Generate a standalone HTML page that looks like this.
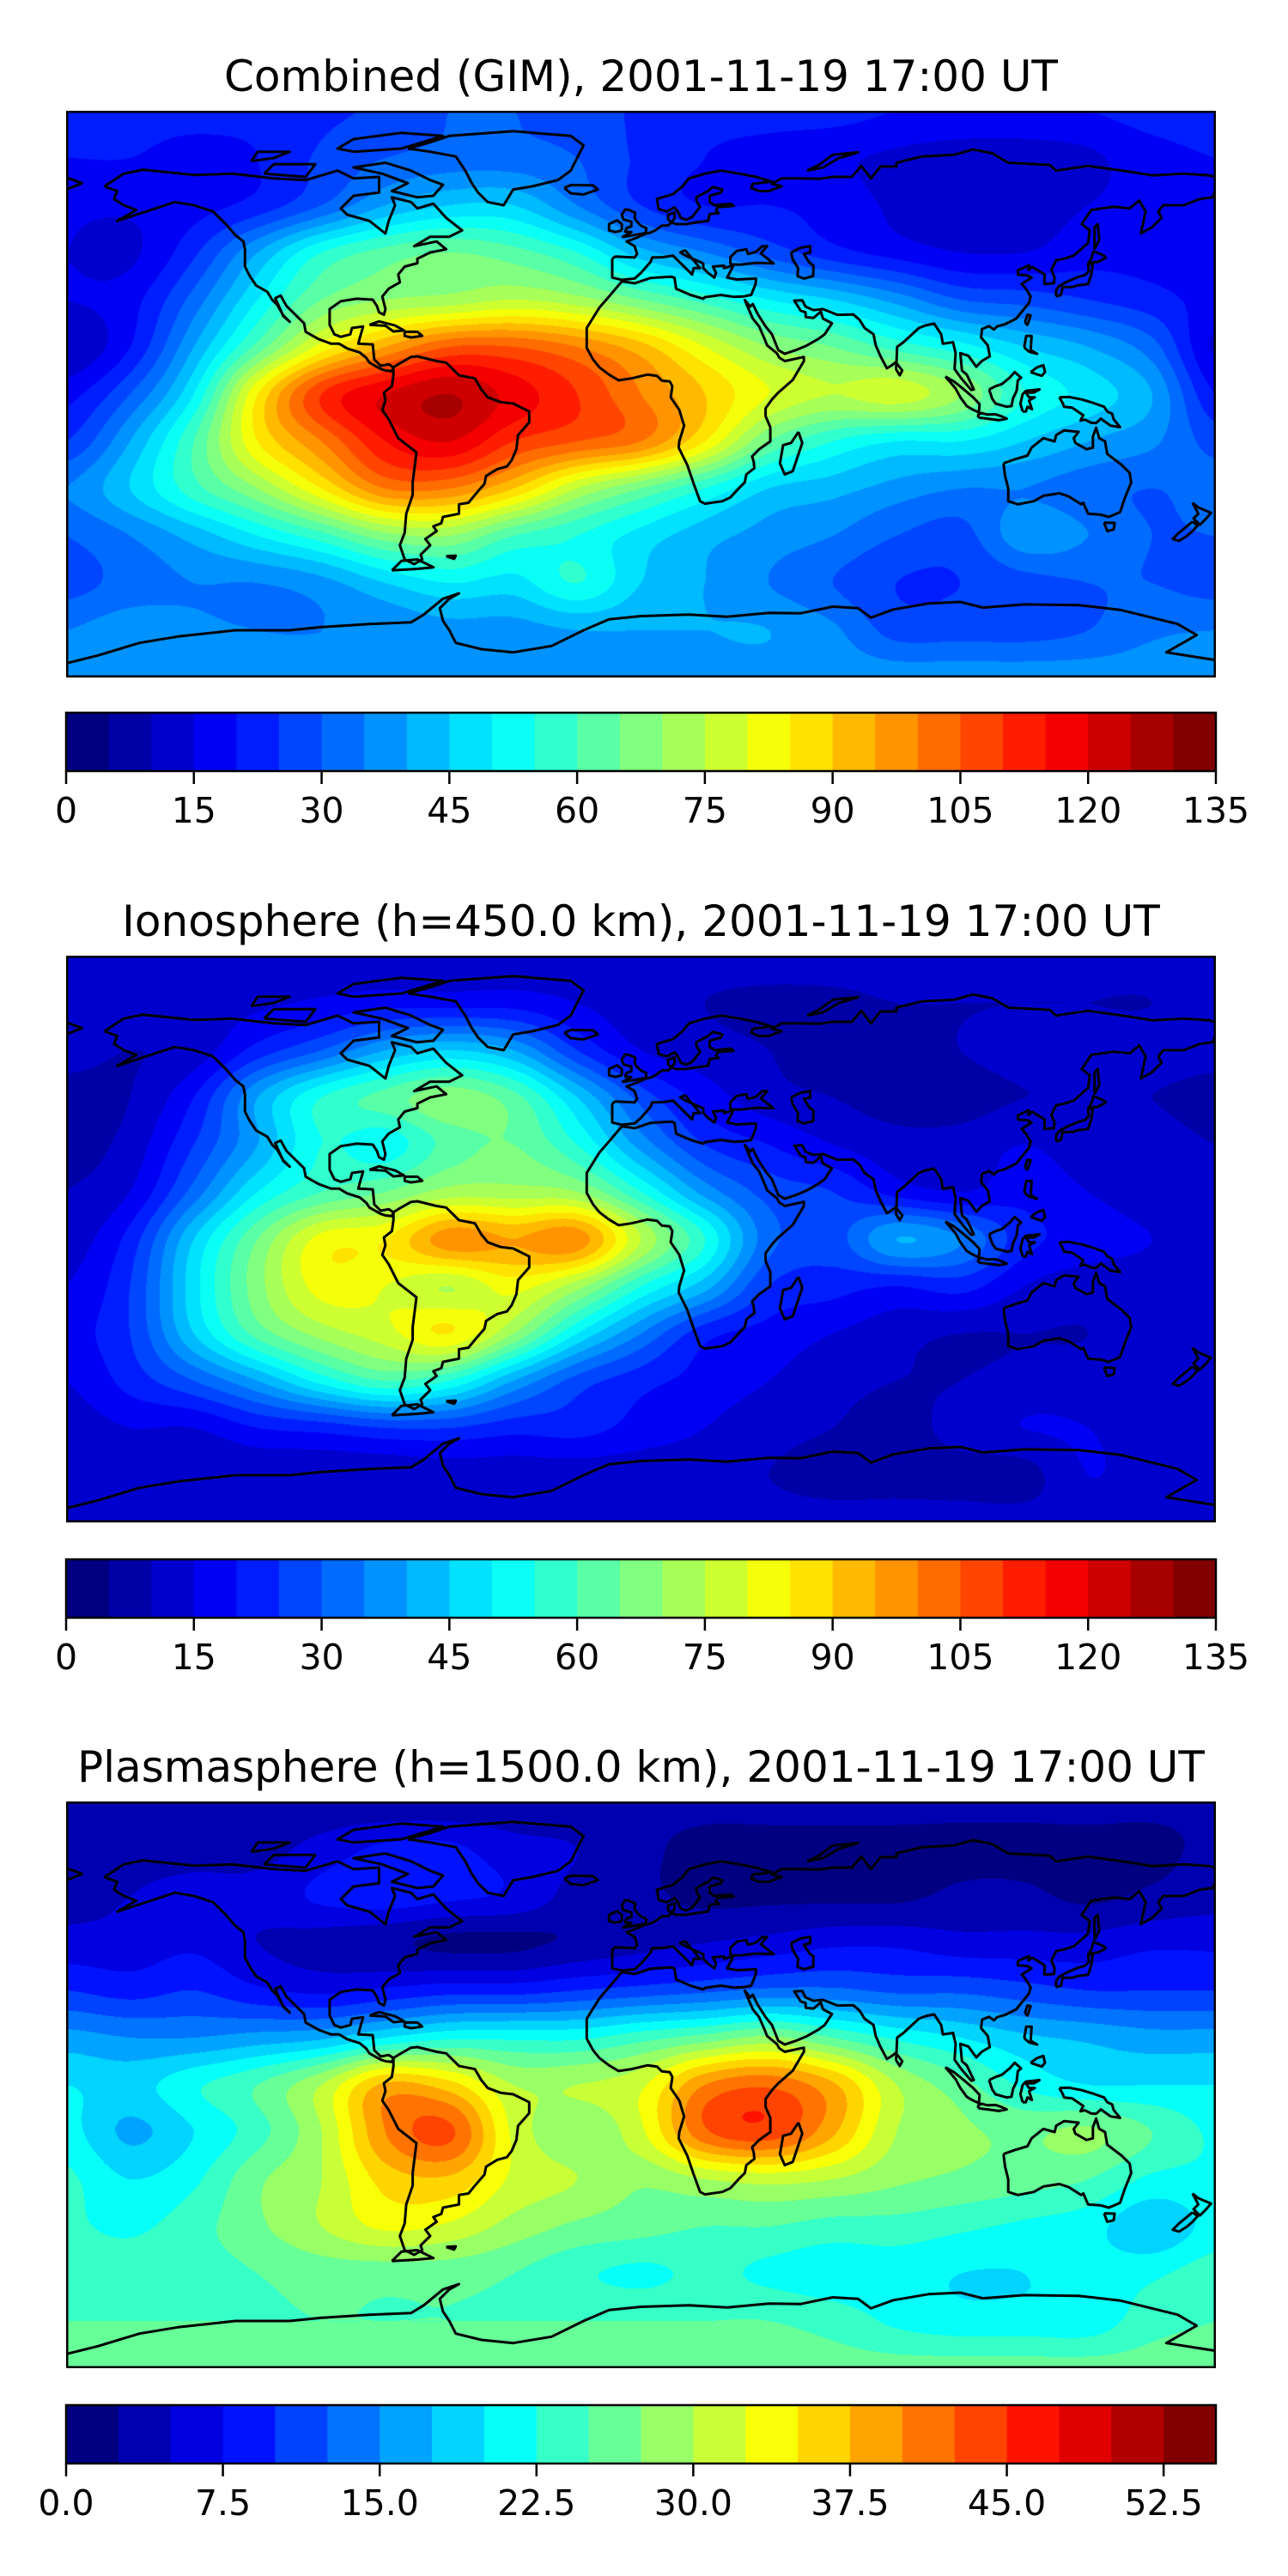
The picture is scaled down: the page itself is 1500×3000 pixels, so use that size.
<!DOCTYPE html>
<html><head><meta charset="utf-8">
<style>
html,body{margin:0;padding:0;background:#fff;}
body{width:1500px;height:3000px;position:relative;overflow:hidden;font-family:"DejaVu Sans","Liberation Sans",sans-serif;}
.title{position:absolute;left:0;width:1493px;text-align:center;font-size:50px;color:#000;white-space:nowrap;line-height:1;}
.map{position:absolute;left:77px;width:1339px;height:660px;}
.map canvas{position:absolute;left:0;top:0;}
.map svg{position:absolute;left:0;top:0;}
.cb{position:absolute;left:0;top:0;}
</style></head>
<body>
<div class="title" style="top:64px">Combined (GIM), 2001-11-19 17:00 UT</div>
<div class="map" id="m0" style="top:129px"></div>
<svg class="cb" id="c0" width="1500" height="1000" style="top:0"></svg>

<div class="title" style="top:1048px">Ionosphere  (h=450.0 km), 2001-11-19 17:00 UT</div>
<div class="map" id="m1" style="top:1113px"></div>
<svg class="cb" id="c1" width="1500" height="1000" style="top:986px"></svg>

<div class="title" style="top:2033px">Plasmasphere (h=1500.0 km), 2001-11-19 17:00 UT</div>
<div class="map" id="m2" style="top:2098px"></div>
<svg class="cb" id="c2" width="1500" height="1000" style="top:1971px"></svg>

<script>
const gridLons = [-180,-160,-140,-120,-100,-80,-60,-40,-20,0,20,40,60,80,100,120,140,160,180];
const gridLats = [90,75,60,45,30,15,0,-15,-30,-45,-60,-75,-90];

const combinedTEC = [
[22,22,22,22,24,26,30,30,28,24,22,22,22,20,20,20,20,22,22],
[20,20,18,20,26,30,32,32,30,24,20,18,16,14,12,12,14,18,20],
[16,16,18,22,30,40,45,45,35,25,20,20,18,14,12,13,15,17,17],
[15,14,24,40,55,62,65,62,55,42,35,28,22,18,15,15,18,18,16],
[15,18,32,50,65,70,72,75,72,65,58,50,45,38,30,28,25,22,18],
[10,20,40,62,82,95,105,105,100,92,80,70,65,58,52,45,40,32,14],
[18,30,50,85,110,120,125,118,110,100,90,80,75,78,70,55,48,40,20],
[25,40,60,85,100,115,120,110,105,100,85,65,55,50,50,45,40,36,28],
[35,45,58,70,85,100,100,90,75,65,55,45,42,38,35,35,32,30,32],
[30,35,42,50,58,68,70,60,55,48,42,38,35,30,28,38,35,30,30],
[28,32,35,35,38,45,50,48,55,45,40,35,30,25,25,28,30,30,28],
[35,38,36,35,35,36,38,38,40,40,40,40,36,28,28,28,30,34,35],
[38,38,38,38,38,38,38,38,38,38,38,38,38,38,38,38,38,38,38]];

const ionoTEC = [
[12,12,12,12,12,12,12,12,12,12,12,12,12,12,12,12,12,12,12],
[13,13,13,14,16,18,18,18,15,12,10,9,9,10,10,10,10,10,12],
[12,10,12,22,30,40,45,40,25,15,12,10,8,8,10,12,12,12,12],
[8,10,20,40,55,62,68,62,45,28,18,12,10,8,8,10,10,10,8],
[8,12,25,40,55,52,62,65,55,38,25,20,15,12,12,15,12,12,10],
[10,15,32,50,60,65,72,72,70,55,38,28,25,18,15,18,15,12,12],
[12,22,45,65,82,85,98,95,98,75,55,32,28,40,35,22,18,15,12],
[15,25,48,68,82,80,75,82,72,55,42,25,22,20,22,15,12,12,12],
[18,25,45,62,72,78,85,70,50,35,22,18,15,12,10,10,10,12,15],
[15,22,30,40,52,60,55,40,28,22,18,15,12,10,10,12,12,12,12],
[12,15,15,20,22,25,25,22,22,18,15,12,10,8,12,15,15,12,12],
[11,11,11,11,11,11,12,12,12,12,12,10,8,8,8,8,15,12,11],
[12,12,12,12,12,12,12,12,12,12,12,12,12,12,12,12,12,12,12]];

const plasmaTEC = [
[3,3,3,3,3,3,3,3,3,3,3,3,3,3,3,3,3,3,3],
[4,4,4,4,6,8,8,6,5,3,2,2,2,2,2,2,2,2,3],
[4,5,6,6,8,9,8,7,4,3,2,2,2,2,3,3,2,3,4],
[6,6,7,5,4,3,2,2,3,4,5,6,7,7,6,6,6,7,7],
[10,9,10,8,7,8,9,9,10,11,12,13,13,12,12,11,10,10,10],
[16,15,15,16,17,20,22,22,22,24,26,28,25,22,20,18,17,16,16],
[20,19,22,25,30,38,36,30,30,32,40,42,38,30,26,22,20,20,20],
[21,17,20,24,30,40,43,32,28,32,42,44,38,30,28,27,28,25,22],
[23,20,22,27,30,36,37,32,30,28,30,31,30,28,27,26,25,22,22],
[23,22,24,27,30,33,32,29,27,26,25,25,24,24,23,22,21,18,21],
[24,24,24,25,26,26,26,25,23,22,23,22,21,21,20,20,21,22,24],
[25,25,25,25,25,25,25,25,25,25,25,25,24,22,21,21,21,24,25],
[26,26,26,26,26,26,26,26,26,26,26,26,26,26,26,26,26,26,26]];

const combinedTicks = ["0","15","30","45","60","75","90","105","120","135"];
const plasmaTicks = ["0.0","7.5","15.0","22.5","30.0","37.5","45.0","52.5"];

const coasts = [
[[-168,66],[-162,70],[-156,71.3],[-140,69.6],[-128,70],[-115,68.5],[-105,68],[-95,71],[-90,68.5],[-82,69],[-82,64],[-90,63],[-94,59],[-92,57],[-85,55],[-80,51],[-79,55],[-77,60],[-78,62.5],[-72,61],[-70,59],[-65,60.5],[-61,56],[-56,52],[-60,50],[-66,50],[-71,47],[-64,48.5],[-61,46],[-66,45],[-70,43],[-70,41.6],[-74,40.5],[-76,38],[-75.5,35.5],[-79,33.5],[-81,31],[-80,27],[-80.5,25.2],[-82,26],[-82.7,28],[-84,30],[-89,30.3],[-94,29.5],[-97.5,27],[-97.5,22],[-96,19],[-94,18.2],[-91,19],[-90.5,21],[-87,21.5],[-88,18],[-88.5,16],[-84,15.8],[-83.5,11],[-81.5,9],[-79,9.5],[-77.5,8.5],[-78,7.3],[-80,7.5],[-81.5,8],[-85,10],[-86,11.5],[-88,13.2],[-92,14.5],[-94.5,16],[-97,16],[-101,17.5],[-105,19.8],[-105.5,22.5],[-108,25],[-111,28],[-112.8,31.3],[-114.5,30.5],[-112,24.8],[-110,23],[-112,25],[-114,28.5],[-115.5,30],[-117,32.5],[-120.5,34.5],[-122.5,37.5],[-124,40.5],[-124,46],[-124.5,48.5],[-127,50.5],[-130,54],[-134,58],[-140,60],[-146,61],[-152,59],[-158,57],[-164,55],[-158,58.5],[-162,60],[-165,62],[-164,64.5],[-168,66]],
[[-80,73.5],[-72,71],[-66,68],[-62,66.5],[-65,63],[-70,62.5],[-78,64.5],[-73,67],[-81,70],[-90,72],[-80,73.5]],
[[-118,70],[-105,69],[-102,73],[-115,73],[-118,70]],
[[-90,77],[-75,78],[-62,82],[-75,83],[-90,81],[-95,78],[-90,77]],
[[-122,74],[-115,75],[-110,77],[-120,77],[-122,74]],
[[-73,78],[-66,80],[-60,82],[-40,83.5],[-22,82],[-18,79],[-20,75],[-22,71],[-26,68],[-34,66],[-40,65],[-43,60],[-48,61],[-51,64],[-53,67],[-55,71],[-58,75.5],[-66,77],[-73,78]],
[[-24,65.5],[-22,66.4],[-15,66.3],[-13.5,65],[-18,63.4],[-22,63.8],[-24,65.5]],
[[-85,22],[-82,23.1],[-77,21.8],[-74.2,20.2],[-77.5,19.9],[-80,21.7],[-85,22]],
[[-74,19.8],[-70,19.8],[-68.5,18.5],[-72,18],[-74,18.5],[-74,19.8]],
[[-77.5,8.5],[-76,9.5],[-72,11.8],[-70,12],[-64,10.5],[-61,10],[-57,6],[-52,5],[-50,1.5],[-48,-1],[-44,-2.5],[-40,-3],[-35,-5.5],[-35,-9],[-38.5,-13],[-39,-17.5],[-40.5,-21],[-42,-23],[-45,-23.8],[-48.5,-26],[-49,-28.5],[-52,-32],[-54,-34.5],[-57,-35],[-57,-38],[-62,-39],[-62.5,-41],[-65,-42],[-64,-43.5],[-67.5,-46],[-66,-48],[-69,-51],[-68.5,-52.5],[-71,-54],[-74,-52.5],[-75.5,-48],[-74,-44],[-73.5,-38],[-71.5,-32],[-71.5,-28],[-70.3,-18.5],[-76,-14],[-79,-8],[-81,-5],[-80,-2],[-80.5,0.5],[-78,2.5],[-77.5,6],[-77.5,8.5]],
[[-61,-51.5],[-58,-51.3],[-58.5,-52.3],[-61,-51.5]],
[[-9,43],[-9,39],[-9,37],[-6,36.3],[-2,36.7],[0,38.5],[3,42],[3.5,43.4],[7,43.5],[10,44],[12.5,41.5],[16,38],[16.5,40],[18.5,40],[14,45.5],[13.5,45.6],[12.3,45],[14,44],[19.5,41.5],[19.5,40],[21,38.5],[23,37],[23.5,38.5],[22.5,40.5],[26,40.8],[26,40],[29,41],[27,37],[30,36.4],[36,36.7],[35.9,35],[34.5,31.5],[32,31],[29,30.9],[25,31.5],[20,30.8],[19.5,30.3],[15.5,31.5],[11,33.5],[10.5,36.9],[9.5,37.3],[3,36.9],[-2,35.2],[-6,35.8],[-10,31],[-13,27.5],[-17,21],[-17,14.7],[-15,11],[-13,8.5],[-10,6.2],[-7,4.4],[-3,5],[2,6.2],[5,5.8],[6.5,4.3],[9,4],[9.8,2.5],[9.3,-1],[12,-5],[13.5,-10],[12,-15],[11.8,-17],[14.5,-22.5],[16.5,-28.5],[18.5,-34],[20,-34.8],[25.5,-34],[28,-32.8],[31,-29.5],[32.5,-28],[33,-25.5],[35.5,-23.5],[35.3,-21.5],[34.8,-19.8],[37,-17.5],[40.5,-15],[40.5,-10.5],[39,-7],[39,-4.5],[41,-1.7],[43,0.5],[47.5,4.5],[51,10.5],[51,11.8],[45,10.5],[43.3,11.6],[42.5,13],[39.5,15.5],[38.5,18],[37,21.5],[35,24],[33.5,27.5],[32.5,29.9],[34.2,27.8],[35,28.6],[36.5,25.5],[39,21.5],[41,19],[43,14],[45,12.8],[48.5,14],[52,15.5],[55.5,17.5],[57.5,19],[59.8,22.5],[57,24],[56.3,26.2],[54,24.2],[51.6,24.5],[51.5,26],[50,26.5],[48,29.7],[50.5,29.8],[51.5,27.8],[54,26.7],[57,27],[61.5,25.2],[66.5,25.3],[68.5,23.5],[70,21],[72.8,19],[73.5,15.5],[75,12],[77,8.2],[78.3,9],[80,10.3],[80.2,15],[82.2,16.5],[87,21],[89,21.8],[91.8,22.4],[94,19],[94.5,16],[97.7,16.5],[98.5,13],[98.2,8],[100.3,5],[103.4,1.3],[104.2,1.5],[102,6.2],[100.5,7.5],[100,13],[102.5,12.2],[105,8.7],[106.7,10.5],[109.2,12],[108.6,15.5],[106.5,18],[106.8,20.7],[109,21.6],[110.5,20.5],[111.5,21.5],[114,22.2],[117.5,24],[121.5,29],[122,31],[120.5,33.5],[119.2,35],[122.3,37],[121,37.7],[118,38],[118,39.3],[121.5,40.9],[121.3,39.4],[122.5,40.4],[126.4,38],[126.3,35],[129.3,35.2],[129.5,37],[128.5,39.5],[130,42.5],[132.5,43],[135.5,44],[140,48],[140.5,52],[138,54],[141,58.5],[148,59.5],[153,59],[156,61.5],[158,58],[156.5,51],[160,53],[163,56],[162,58],[163.5,60],[170,60],[175,62],[179,62.5],[180,65],[180,68.8],[178,69.5],[170,70],[160,69.5],[152,70.8],[140,72.5],[130,71],[128,72.8],[115,73.5],[110,76.5],[104,77.7],[98,76],[88,75.5],[80,73.5],[80,72.3],[75,72.3],[72,68.5],[69,72.5],[66,69],[60,69],[56,68.4],[50,68.5],[44,68.5],[41,66.8],[44,66],[40,64.5],[37,64.5],[34.5,65.5],[35,66.8],[41,67.5],[36,69],[31,70],[25,71],[20,70],[15,68.5],[13,66],[10,63.5],[5,62],[5.5,58.8],[8,58],[10.5,59.3],[11.5,58],[12.5,56],[14.2,55.4],[16,56.3],[17,57.5],[18.5,59.5],[17.5,61],[17.3,62.5],[21,64.5],[22.5,65.8],[25.5,65],[25,64],[21.5,63],[21.5,61],[23,60],[28,60.5],[29,59.8],[24,59.4],[23.5,58.3],[24.3,57.5],[21.5,57.2],[21,55],[18.5,54.7],[14,54],[11,54],[9.5,54.6],[8.5,55.5],[8.5,57],[10.5,57.7],[10.5,55.8],[9,54],[8.5,53.6],[6.5,53.5],[4.5,52],[3,51.3],[1.6,51],[-1.5,49.6],[-4.5,48.5],[-2,47],[-1.2,44.5],[-2,43.4],[-8,43.7],[-9,43]],
[[-180,65],[-175,67],[-180,68.8]],
[[28,41.2],[28,43.5],[30,45.5],[33,46],[33.5,44.5],[36,45.2],[38,47],[39.5,47],[37.5,44.7],[41.5,41.5],[36,41.7],[31,41.1],[28,41.2]],
[[47,45],[50,46.5],[53,47],[53,45],[51,44.5],[52.7,41.8],[54,40.8],[53.9,37.5],[51,36.7],[49,37.5],[49.2,40],[47.5,42.8],[47,45]],
[[-5,50],[1.5,51.2],[1.7,52.7],[0,53.5],[-1.5,55],[-2,56],[-1.8,57.6],[-4,58.6],[-5,58.6],[-6,57],[-5.5,55.5],[-3,54.8],[-3,53.3],[-4.5,52.8],[-5,51.6],[-3,51.4],[-5.7,50],[-5,50]],
[[-6,52],[-6,54],[-7.5,55.2],[-10,54],[-10,52],[-8,51.5],[-6,52]],
[[52,71],[56,73],[60,76],[68,76.8],[62,75],[57,72],[52,71]],
[[130,31],[131.5,31.5],[132,34],[135,34],[137,34.6],[140,35],[141,38],[141.5,41.5],[140,41.3],[140.2,39],[139,37.8],[136.8,37.2],[133,35.5],[131,34.4],[130,33],[130,31]],
[[140,41.5],[141,43],[141.7,45.4],[145,44],[145.5,43.3],[143,42],[141,41.8],[140,41.5]],
[[142,46],[143.5,49],[143,54],[142,53],[142,46]],
[[120.2,22.8],[121,25.2],[122,25],[121,22],[120.2,22.8]],
[[120,14.8],[120.6,18.5],[122.3,18.5],[122,14],[124,12.8],[121.5,13.5],[120,14.8]],
[[122,7],[124,8.5],[126,9.2],[126.5,7],[125.5,5.8],[124,6.3],[122,7]],
[[109,1.5],[111,2.5],[113,3.2],[115.5,5.3],[117,7],[119,5.2],[118,4.4],[117.6,1],[116.5,-1.3],[116,-3.8],[114.5,-4],[111,-3],[110,-1.5],[109,1.5]],
[[95.3,5.6],[98,4],[100.5,2],[104,-1],[106,-3.2],[105.8,-5.8],[104,-5],[102,-3.8],[100,-1],[98.5,1.8],[95.3,5.6]],
[[105.3,-6.8],[106.5,-6],[108.5,-6.5],[111,-6.4],[112.8,-7],[114.5,-7.8],[112,-8.3],[108.5,-7.8],[106,-7.5],[105.3,-6.8]],
[[119.5,-5.5],[118.8,-3],[119.5,0],[120.5,1],[124.8,1.5],[123,0.5],[120.5,0.5],[121.5,-1],[123.3,-1],[121.5,-2],[122.4,-4.8],[121,-4],[120.5,-5.5],[119.5,-5.5]],
[[131,-1],[134,-0.9],[138,-1.7],[141,-2.6],[145,-4],[146,-5.5],[147.5,-6.2],[148,-8],[150,-10.5],[147,-10],[144,-7.8],[142.5,-9.2],[141,-9.1],[139,-8.1],[137.6,-8.4],[138.5,-6.7],[135,-4.3],[132.5,-4],[132,-2.8],[131,-1]],
[[113.5,-22],[114,-26],[115,-30],[115,-34],[118,-35],[123,-34],[126,-32.3],[131,-31.5],[134,-32.5],[137.8,-35],[138.5,-34.5],[140,-38],[144,-38.3],[146.5,-39],[150,-37.5],[151.5,-33],[153.5,-28],[153,-25],[150.5,-22.5],[146,-19],[145.3,-15],[143.5,-14],[142.5,-10.7],[141.5,-13.5],[141.5,-17],[139.5,-17.5],[136,-15.5],[135.5,-14],[137,-12],[132.5,-11.5],[130,-13],[129.5,-15],[126,-14],[122.3,-17],[121,-19.5],[117,-20.7],[114,-21.8],[113.5,-22]],
[[145,-40.8],[148.3,-40.9],[148,-43],[146,-43.5],[145,-40.8]],
[[172.7,-34.5],[174.5,-36],[178.5,-37.7],[177,-39.5],[175,-41.5],[173,-39.5],[174.5,-38],[172.7,-34.5]],
[[172.7,-40.5],[174.3,-41.7],[172.7,-43.5],[171,-45],[168.5,-46.6],[166.5,-46],[168.5,-44],[172.7,-40.5]],
[[49.3,-12],[50.5,-15.5],[47.5,-24.5],[45,-25.5],[43.5,-22],[44.5,-16.2],[47,-15.5],[49.3,-12]],
[[79.8,8],[80,9.8],[81.8,7.5],[81,6],[79.8,8]],
[[-180,-85.5],[-170,-83],[-157,-79],[-145,-77],[-127,-75],[-110,-75],[-100,-74],[-85,-73],[-72,-72.5],[-68,-70],[-62,-65],[-57,-63.3],[-60,-65],[-63,-68],[-62,-72],[-60,-75],[-58,-79],[-50,-81],[-40,-82],[-28,-80],[-18,-75],[-10,-71.5],[0,-70.5],[15,-70],[27,-70.7],[40,-69.5],[50,-69.6],[60,-67.5],[68,-68],[72,-71],[79,-68.4],[90,-66.5],[100,-66],[107,-67.8],[120,-66.8],[137,-67],[150,-68.5],[160,-71],[168,-73],[174,-76.5],[164.5,-82],[180,-84.5]],
[[-78,-56],[-75,-53],[-70,-52.5],[-65,-55],[-70,-55.5],[-78,-56]]
];

const W=1339,H=660;
function jet(x){
  const c=t=>Math.max(0,Math.min(1,t));
  return [c(1.5-Math.abs(4*x-3)),c(1.5-Math.abs(4*x-2)),c(1.5-Math.abs(4*x-1))];
}
function levelColor(i,n){const c=jet(i/(n-1));return [Math.round(c[0]*255),Math.round(c[1]*255),Math.round(c[2]*255)];}
function xOfLon(lon){return (lon+180)/360*W;}
function yOfLat(lat){return (90-lat)/180*H;}
function cr(p0,p1,p2,p3,t){return 0.5*((2*p1)+(-p0+p2)*t+(2*p0-5*p1+4*p2-p3)*t*t+(-p0+3*p1-3*p2+p3)*t*t*t);}
function sample(grid,gx,gy){
  const R=grid.length,C=grid[0].length;
  const ix=Math.floor(gx),iy=Math.floor(gy);const tx=gx-ix,ty=gy-iy;
  const cl=(v,m)=>Math.max(0,Math.min(m-1,v));
  const rows=[];
  for(let j=-1;j<3;j++){const r=grid[cl(iy+j,R)];
    rows.push(cr(r[cl(ix-1,C)],r[cl(ix,C)],r[cl(ix+1,C)],r[cl(ix+2,C)],tx));}
  return cr(rows[0],rows[1],rows[2],rows[3],ty);
}
function drawMap(id,name,grid,step,n){
  const host=document.getElementById(id);
  const cv=document.createElement('canvas');
  
  
  cv.width=W;cv.height=H;host.appendChild(cv);
  const ctx=cv.getContext('2d');const img=ctx.createImageData(W,H);
  const cols=[];for(let i=0;i<n;i++)cols.push(levelColor(i,n));
  const dLon=gridLons[1]-gridLons[0], dLat=gridLats[0]-gridLats[1];
  for(let y=0;y<H;y++){
    const lat=90-(y+0.5)/H*180; const gy=(gridLats[0]-lat)/dLat;
    for(let x=0;x<W;x++){
      const lon=-180+(x+0.5)/W*360; const gx=(lon-gridLons[0])/dLon;
      const v=sample(grid,gx,gy);
      let b=Math.floor(v/step); if(b<0)b=0; if(b>n-1)b=n-1;
      const c=cols[b];const k=(y*W+x)*4;
      img.data[k]=c[0];img.data[k+1]=c[1];img.data[k+2]=c[2];img.data[k+3]=255;
    }
  }
  ctx.putImageData(img,0,0);
  const NS='http://www.w3.org/2000/svg';
  const svg=document.createElementNS(NS,'svg');
  svg.setAttribute('width',W);svg.setAttribute('height',H);
  
  
  host.appendChild(svg);
  coasts.forEach(function(poly){
    const pl=document.createElementNS(NS,'polyline');
    pl.setAttribute('points',poly.map(p=>xOfLon(p[0]).toFixed(1)+','+yOfLat(p[1]).toFixed(1)).join(' '));
    pl.setAttribute('fill','none');pl.setAttribute('stroke','#000');pl.setAttribute('stroke-width','3');
    pl.setAttribute('stroke-linejoin','round');
    
    
    svg.appendChild(pl);
  });
  const fr=document.createElementNS(NS,'rect');
  fr.setAttribute('x',1.25);fr.setAttribute('y',1.25);fr.setAttribute('width',W-2.5);fr.setAttribute('height',H-2.5);
  fr.setAttribute('fill','none');fr.setAttribute('stroke','#000');fr.setAttribute('stroke-width','2.5');
  
  
  svg.appendChild(fr);
}
function drawBar(id,name,n,vmax,ticks){
  const NS='http://www.w3.org/2000/svg';
  const svg=document.getElementById(id);
  const x0=77,wd=1339,top=830,h=68;
  for(let i=0;i<n;i++){
    const r=document.createElementNS(NS,'rect');
    const c=levelColor(i,n);
    r.setAttribute('x',(x0+i*wd/n).toFixed(2));r.setAttribute('y',top);
    r.setAttribute('width',(wd/n+0.6).toFixed(2));r.setAttribute('height',h);
    r.setAttribute('fill','rgb('+c.join(',')+')');
    
    
    svg.appendChild(r);
  }
  const fr=document.createElementNS(NS,'rect');
  fr.setAttribute('x',x0);fr.setAttribute('y',top);fr.setAttribute('width',wd);fr.setAttribute('height',h);
  fr.setAttribute('fill','none');fr.setAttribute('stroke','#000');fr.setAttribute('stroke-width','2.5');
  
  
  svg.appendChild(fr);
  ticks.forEach(function(t){
    const v=parseFloat(t);const x=x0+v/vmax*wd;
    const ln=document.createElementNS(NS,'line');
    ln.setAttribute('x1',x);ln.setAttribute('x2',x);ln.setAttribute('y1',top+h);ln.setAttribute('y2',top+h+15);
    ln.setAttribute('stroke','#000');ln.setAttribute('stroke-width','2.5');
    
    
    svg.appendChild(ln);
    const tx=document.createElementNS(NS,'text');
    tx.setAttribute('x',x);tx.setAttribute('y',top+h+60);tx.setAttribute('text-anchor','middle');
    tx.setAttribute('font-size','41');tx.setAttribute('font-family','DejaVu Sans, Liberation Sans, sans-serif');
    tx.textContent=t;
    
    
    svg.appendChild(tx);
  });
}
drawMap('m0','combined',combinedTEC,5,27);
drawMap('m1','ionosphere',ionoTEC,5,27);
drawMap('m2','plasmasphere',plasmaTEC,2.5,22);
drawBar('c0','combined-colorbar',27,135,combinedTicks);
drawBar('c1','ionosphere-colorbar',27,135,combinedTicks);
drawBar('c2','plasmasphere-colorbar',22,55,plasmaTicks);
</script>
</body></html>
